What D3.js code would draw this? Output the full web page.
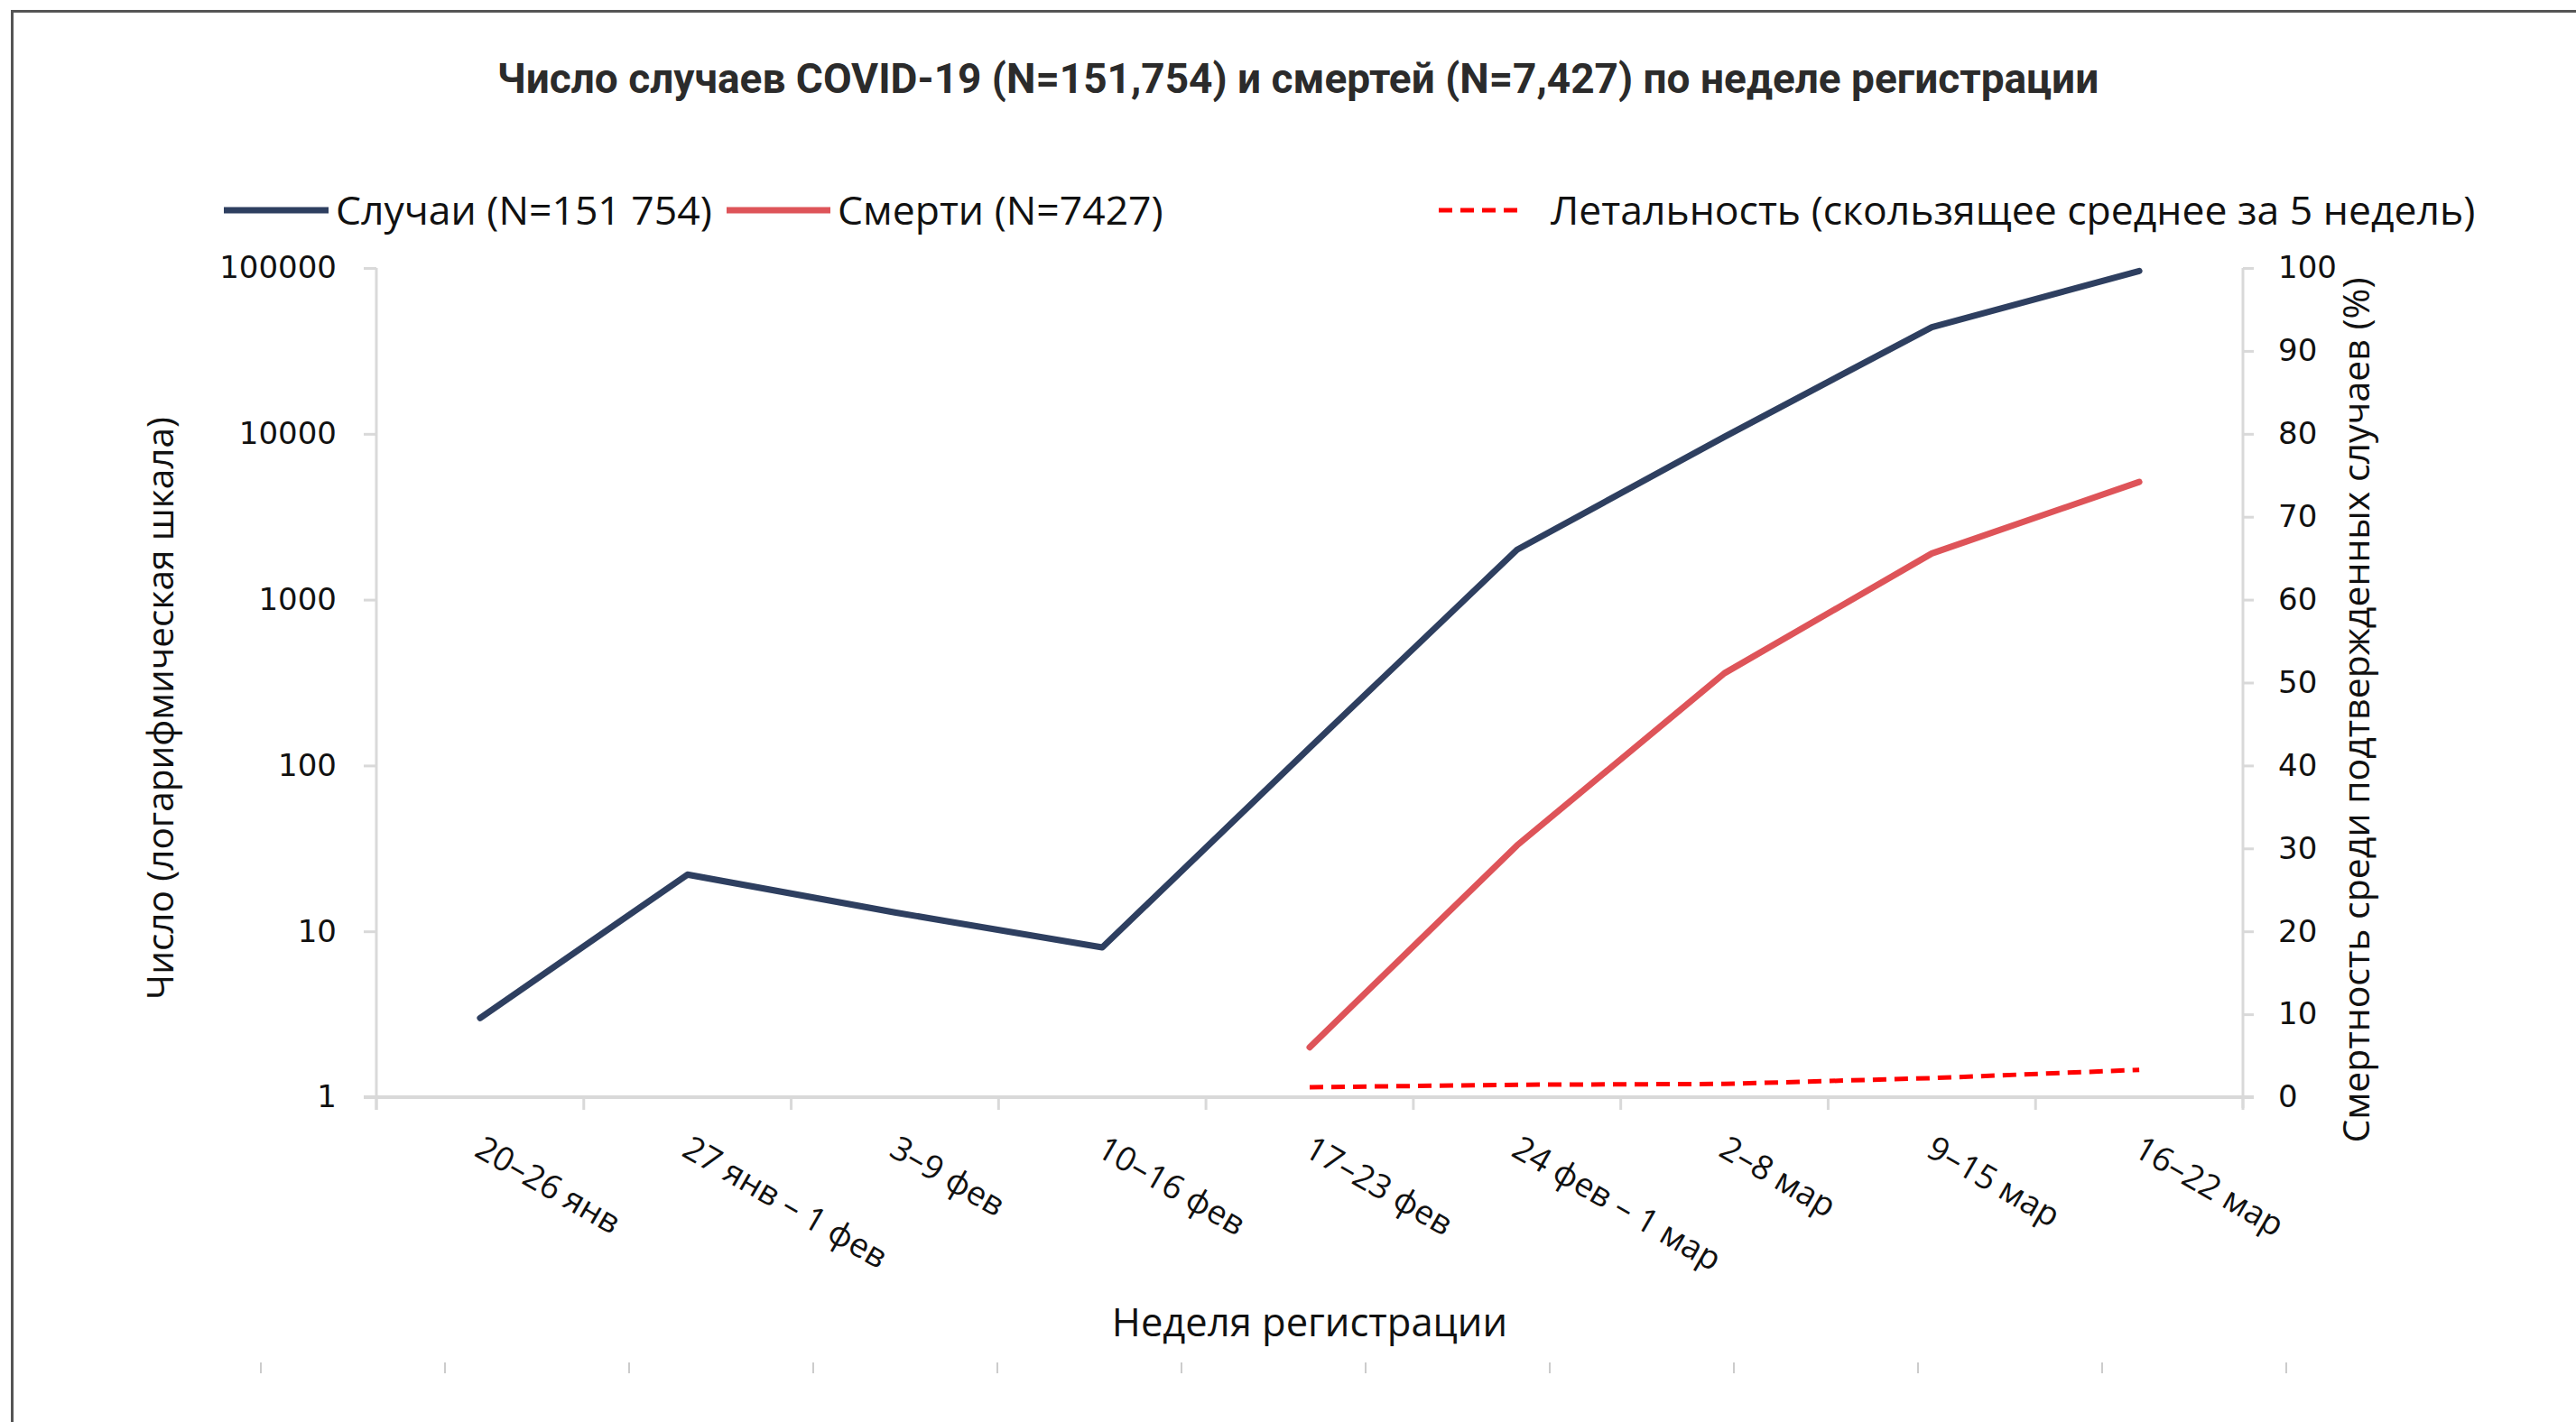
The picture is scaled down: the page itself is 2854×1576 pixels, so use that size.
<!DOCTYPE html>
<html>
<head>
<meta charset="utf-8">
<script src="https://cdn.jsdelivr.net/npm/d3@7"></script>
<style>
  html, body { margin: 0; padding: 0; background: #fff; }
  svg { display: block; }
</style>
</head>
<body>
<svg id="chart" width="2854" height="1576"></svg>
<script>
// ---------- data ----------
const categories = ["20–26 янв", "27 янв – 1 фев", "3–9 фев", "10–16 фев", "17–23 фев",
                    "24 фев – 1 мар", "2–8 мар", "9–15 мар", "16–22 мар"];
const cases  = [3, 22, 13, 8, 128, 2000, 9600, 44000, 96000];
const deaths = [null, null, null, null, 2, 33, 360, 1900, 5130];
const lethality = [null, null, null, null, 1.2, 1.5, 1.6, 2.3, 3.3];
const leftTicks = [1, 10, 100, 1000, 10000, 100000];
const rightTicks = [0, 10, 20, 30, 40, 50, 60, 70, 80, 90, 100];
const titleText = "Число случаев COVID-19 (N=151,754) и смертей (N=7,427) по неделе регистрации";
const legendLabels = ["Случаи (N=151 754)", "Смерти (N=7427)", "Летальность (скользящее среднее за 5 недель)"];
const leftTitle = "Число (логарифмическая шкала)";
const rightTitle = "Смертность среди подтвержденных случаев (%)";
const xTitle = "Неделя регистрации";

// ---------- layout ----------
const W = 2854, H = 1576;
const plot = { left: 417, right: 2485, top: 297, bottom: 1216 };
const colCases = "#2E3F60", colDeaths = "#DE5459", colLeth = "#FF0000";
const axisCol = "#D9D9D9";
const svg = d3.select("#chart");

// frame
svg.append("line").attr("x1", 12).attr("x2", W).attr("y1", 12.5).attr("y2", 12.5)
  .attr("stroke", "#555").attr("stroke-width", 3);
svg.append("line").attr("x1", 13.5).attr("x2", 13.5).attr("y1", 11).attr("y2", H)
  .attr("stroke", "#555").attr("stroke-width", 3);

// scales
const x = d3.scaleBand().domain(categories).range([plot.left, plot.right]).padding(0);
const xc = c => x(c) + x.bandwidth() / 2;
const yL = d3.scaleLog().domain([1, 100000]).range([plot.bottom, plot.top]);
const yR = d3.scaleLinear().domain([0, 100]).range([plot.bottom, plot.top]);

// title
svg.append("text").attr("x", 1438).attr("y", 103).attr("text-anchor", "middle")
  .attr("font-family", "Roboto").attr("font-weight", "bold").attr("font-size", 46)
  .attr("fill", "#2b2b2b").text(titleText);

// legend
const lg = svg.append("g");
const legendItems = [
  { x1: 248, x2: 364, tx: 372, color: colCases, dash: null, label: legendLabels[0] },
  { x1: 805, x2: 920, tx: 928, color: colDeaths, dash: null, label: legendLabels[1] },
  { x1: 1594, x2: 1689, tx: 1718, color: colLeth, dash: "15,9", label: legendLabels[2] }
];
legendItems.forEach(it => {
  lg.append("line").attr("x1", it.x1).attr("x2", it.x2).attr("y1", 233).attr("y2", 233)
    .attr("stroke", it.color).attr("stroke-width", it.dash ? 5 : 7)
    .attr("stroke-dasharray", it.dash);
  lg.append("text").attr("x", it.tx).attr("y", 249)
    .attr("font-family", "Open Sans").attr("font-size", 44.5).attr("fill", "#111").text(it.label);
});

// left axis
const gL = svg.append("g").attr("transform", `translate(${plot.left},0)`)
  .call(d3.axisLeft(yL).tickValues(leftTicks).tickFormat(d => String(d))
        .tickSize(14).tickSizeOuter(0).tickPadding(30));
gL.select(".domain").attr("stroke", axisCol).attr("stroke-width", 3)
  .attr("d", `M0,${plot.top}V${plot.bottom + 14}`);
gL.selectAll(".tick line").attr("stroke", axisCol).attr("stroke-width", 3);
gL.selectAll(".tick text").attr("font-family", "DejaVu Sans").attr("font-size", 34)
  .attr("fill", "#111");

// right axis
const gR = svg.append("g").attr("transform", `translate(${plot.right},0)`)
  .call(d3.axisRight(yR).tickValues(rightTicks).tickSize(12).tickSizeOuter(0).tickPadding(27));
gR.select(".domain").attr("stroke", axisCol).attr("stroke-width", 3)
  .attr("d", `M0,${plot.top}V${plot.bottom + 12}`);
gR.selectAll(".tick line").attr("stroke", axisCol).attr("stroke-width", 3);
gR.selectAll(".tick text").attr("font-family", "DejaVu Sans").attr("font-size", 34)
  .attr("fill", "#111");

// x axis
const gX = svg.append("g").attr("transform", `translate(0,${plot.bottom})`)
  .call(d3.axisBottom(x).tickSize(0).tickFormat(""));
gX.select(".domain").attr("stroke", axisCol).attr("stroke-width", 4)
  .attr("d", `M${plot.left - 14},0H${plot.right + 12}`);
const boundaries = categories.map(c => x(c)).concat([x.range()[1]]);
gX.selectAll(".bt").data(boundaries).enter().append("line").attr("class", "bt")
  .attr("x1", d => d).attr("x2", d => d).attr("y1", 0).attr("y2", 14)
  .attr("stroke", axisCol).attr("stroke-width", 3);
svg.append("g").selectAll("text").data(categories).enter().append("text")
  .attr("transform", c => `translate(${xc(c) - 8},${plot.bottom + 64}) rotate(30)`)
  .attr("font-family", "Open Sans").attr("font-size", 37).attr("fill", "#111")
  .text(c => c);

// axis titles
svg.append("text").attr("transform", `translate(176,785) rotate(-90)`)
  .attr("text-anchor", "middle").attr("dominant-baseline", "central")
  .attr("font-family", "Open Sans").attr("font-size", 40.5).attr("fill", "#111").text(leftTitle);
svg.append("text").attr("transform", `translate(2609,787) rotate(-90)`)
  .attr("text-anchor", "middle").attr("dominant-baseline", "central")
  .attr("font-family", "Open Sans").attr("font-size", 41).attr("fill", "#111").text(rightTitle);
svg.append("text").attr("x", 1451).attr("y", 1481).attr("text-anchor", "middle")
  .attr("font-family", "Open Sans").attr("font-size", 43.5).attr("fill", "#111").text(xTitle);

// faint marks at the bottom
svg.append("g").selectAll("line").data(d3.range(12)).enter().append("line")
  .attr("x1", i => 289 + 204 * i).attr("x2", i => 289 + 204 * i)
  .attr("y1", 1510).attr("y2", 1522).attr("stroke", "#ccc").attr("stroke-width", 2);

// lines
const lineL = d3.line().defined(d => d.v != null).x(d => xc(d.c)).y(d => yL(d.v));
const lineR = d3.line().defined(d => d.v != null).x(d => xc(d.c)).y(d => yR(d.v));
svg.append("path").datum(categories.map((c, i) => ({ c, v: lethality[i] })))
  .attr("d", lineR).attr("fill", "none").attr("stroke", colLeth)
  .attr("stroke-width", 5).attr("stroke-dasharray", "15,9");
svg.append("path").datum(categories.map((c, i) => ({ c, v: deaths[i] })))
  .attr("d", lineL).attr("fill", "none").attr("stroke", colDeaths)
  .attr("stroke-width", 7).attr("stroke-linejoin", "round").attr("stroke-linecap", "round");
svg.append("path").datum(categories.map((c, i) => ({ c, v: cases[i] })))
  .attr("d", lineL).attr("fill", "none").attr("stroke", colCases)
  .attr("stroke-width", 7).attr("stroke-linejoin", "round").attr("stroke-linecap", "round");
</script>
</body>
</html>
